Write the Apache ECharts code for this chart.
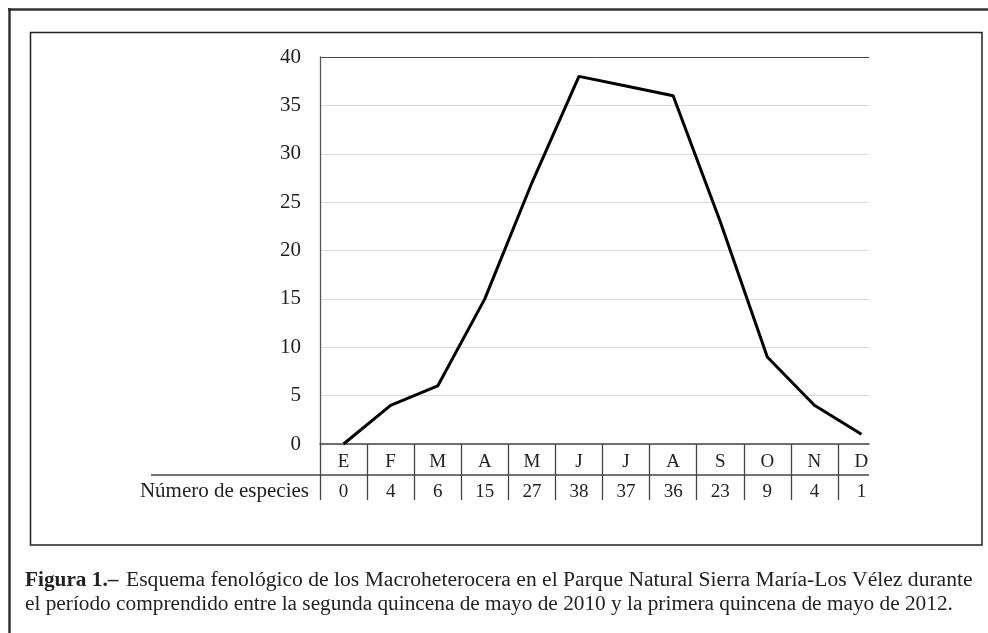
<!DOCTYPE html>
<html>
<head>
<meta charset="utf-8">
<script src="https://cdn.jsdelivr.net/npm/echarts@6/dist/echarts.min.js"></script>
<style>
  html, body { margin: 0; padding: 0; background: #fff; }
  #chart { width: 988px; height: 633px; }
</style>
</head>
<body>
<div id="chart"></div>
<script>
// meses (iniciales) y número de especies por mes
var months = ['E', 'F', 'M', 'A', 'M', 'J', 'J', 'A', 'S', 'O', 'N', 'D'];
var especies = [0, 4, 6, 15, 27, 38, 37, 36, 23, 9, 4, 1];
var yTicks = [0, 5, 10, 15, 20, 25, 30, 35, 40];

var serif = '"Liberation Serif", "DejaVu Serif", "Times New Roman", serif';

var chart = echarts.init(document.getElementById('chart'));

// x is a value axis so that each month is a band of width 1 (the last band is cut off like in the figure)
var lineData = especies.map(function (v, i) { return [i + 0.5, v]; });
var bandEdges = months.map(function (m, i) { return i; });
var bandCenters = months.map(function (m, i) { return i + 0.5; });

var gridColors = yTicks.map(function (t, i) {
    return (i === yTicks.length - 1) ? '#444' : '#d9d9d9';
});

var option = {
    animation: false,
    backgroundColor: '#fff',
    grid: { left: 320, top: 57, right: 119, bottom: 189 },
    xAxis: {
        type: 'value',
        min: 0,
        max: 11.66,
        axisLine: { show: true, onZero: false, lineStyle: { color: '#444', width: 1.5 } },
        axisTick: {
            show: true,
            inside: false,
            length: 56,
            customValues: bandEdges,
            lineStyle: { color: '#444', width: 1.3 }
        },
        axisLabel: {
            customValues: bandCenters,
            margin: 3,
            formatter: function (v) {
                var i = Math.floor(v);
                return '{m|' + months[i] + '}\n{n|' + especies[i] + '}';
            },
            rich: {
                m: { fontFamily: serif, fontSize: 19, color: '#222', lineHeight: 30 },
                n: { fontFamily: serif, fontSize: 19, color: '#222', lineHeight: 30 }
            }
        },
        splitLine: { show: false }
    },
    yAxis: {
        type: 'value',
        min: 0,
        max: 40,
        interval: 5,
        axisLine: { show: true, lineStyle: { color: '#555', width: 1.3 } },
        axisTick: { show: false },
        axisLabel: { fontFamily: serif, fontSize: 21, color: '#222', margin: 19 },
        splitLine: { show: true, lineStyle: { color: gridColors, width: 1 } }
    },
    series: [{
        type: 'line',
        data: lineData,
        symbol: 'none',
        clip: false,
        lineStyle: { color: '#000', width: 3 },
        z: 5
    }],
    graphic: [
        // marco exterior (solo arriba e izquierda visibles)
        { type: 'line', shape: { x1: 8, y1: 9.5, x2: 988, y2: 9.5 }, style: { stroke: '#333', lineWidth: 2.5 } },
        { type: 'line', shape: { x1: 9.5, y1: 8, x2: 9.5, y2: 633 }, style: { stroke: '#333', lineWidth: 2.5 } },
        // marco del gráfico
        { type: 'rect', shape: { x: 30.5, y: 32.5, width: 951.5, height: 512.5 }, style: { fill: null, stroke: '#222', lineWidth: 1.5 } },
        // línea de la tabla
        { type: 'line', shape: { x1: 151, y1: 475, x2: 869, y2: 475 }, style: { stroke: '#444', lineWidth: 1.3 } },
        {
            type: 'text', x: 309, y: 491,
            style: { text: 'Número de especies', font: '21px ' + serif, fill: '#222', textAlign: 'right', textVerticalAlign: 'middle' }
        },
        // pie de figura
        {
            type: 'text', x: 25, y: 580,
            style: { text: 'Figura 1.–', font: 'bold 21.3px ' + serif, fill: '#222', textAlign: 'left', textVerticalAlign: 'middle' }
        },
        {
            type: 'text', x: 126, y: 580,
            style: { text: 'Esquema fenológico de los Macroheterocera en el Parque Natural Sierra María-Los Vélez durante', font: '21.6px ' + serif, fill: '#222', textAlign: 'left', textVerticalAlign: 'middle' }
        },
        {
            type: 'text', x: 25, y: 604,
            style: { text: 'el período comprendido entre la segunda quincena de mayo de 2010 y la primera quincena de mayo de 2012.', font: '21.3px ' + serif, fill: '#222', textAlign: 'left', textVerticalAlign: 'middle' }
        }
    ]
};

chart.setOption(option);
</script>
</body>
</html>
